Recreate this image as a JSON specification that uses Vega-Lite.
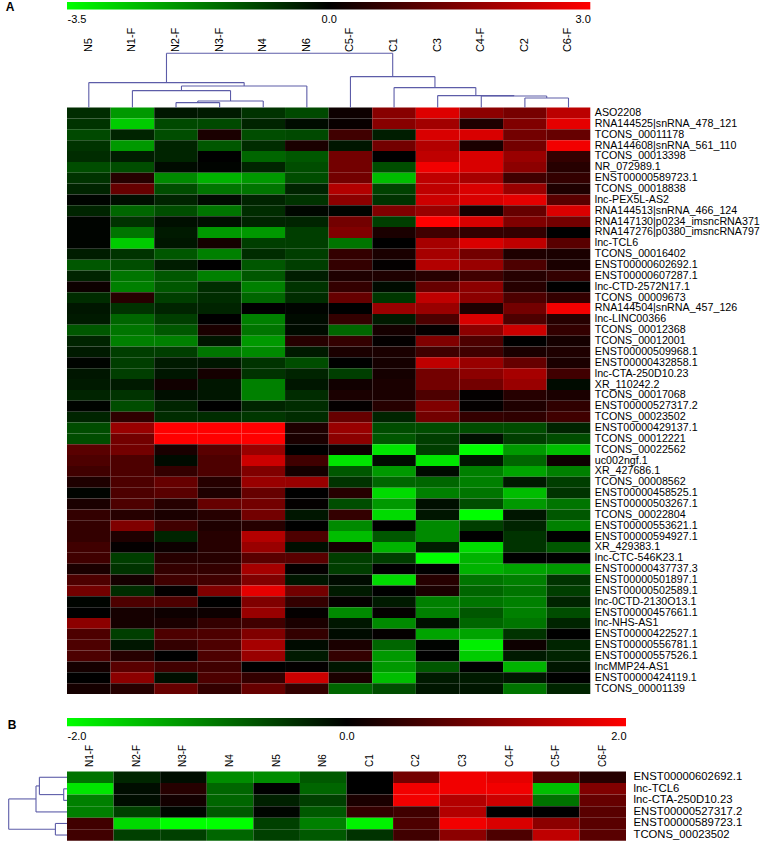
{
"$schema": "https://vega.github.io/schema/vega-lite/v6.json",
"background": "white",
"padding": {"left": 5, "top": 0, "right": 0, "bottom": 0},
"config": {"view": {"stroke": null}, "font": "Liberation Sans", "axis": {"ticks": false, "domain": false, "grid": false, "labelColor": "black", "labelFont": "Liberation Sans"}},
"spacing": 24,
"resolve": {"scale": {"x": "independent", "y": "independent", "color": "independent"}},
"datasets": {
"a": [
{"g":"ASO2208","c":"N5","v":-0.6},{"g":"ASO2208","c":"N1-F","v":-2.1},{"g":"ASO2208","c":"N2-F","v":-0.3},{"g":"ASO2208","c":"N3-F","v":-0.35},{"g":"ASO2208","c":"N4","v":-0.7},{"g":"ASO2208","c":"N6","v":-1.0},{"g":"ASO2208","c":"C5-F","v":0.15},{"g":"ASO2208","c":"C1","v":1.6},{"g":"ASO2208","c":"C3","v":2.6},{"g":"ASO2208","c":"C4-F","v":1.65},{"g":"ASO2208","c":"C2","v":1.4},{"g":"ASO2208","c":"C6-F","v":2.2},
{"g":"RNA144525|snRNA_478_121","c":"N5","v":-0.7},{"g":"RNA144525|snRNA_478_121","c":"N1-F","v":-2.8},{"g":"RNA144525|snRNA_478_121","c":"N2-F","v":-1.0},{"g":"RNA144525|snRNA_478_121","c":"N3-F","v":-1.0},{"g":"RNA144525|snRNA_478_121","c":"N4","v":-0.5},{"g":"RNA144525|snRNA_478_121","c":"N6","v":-0.15},{"g":"RNA144525|snRNA_478_121","c":"C5-F","v":0.1},{"g":"RNA144525|snRNA_478_121","c":"C1","v":1.6},{"g":"RNA144525|snRNA_478_121","c":"C3","v":1.9},{"g":"RNA144525|snRNA_478_121","c":"C4-F","v":0.35},{"g":"RNA144525|snRNA_478_121","c":"C2","v":1.5},{"g":"RNA144525|snRNA_478_121","c":"C6-F","v":2.7},
{"g":"TCONS_00011178","c":"N5","v":-1.0},{"g":"TCONS_00011178","c":"N1-F","v":-0.5},{"g":"TCONS_00011178","c":"N2-F","v":-1.05},{"g":"TCONS_00011178","c":"N3-F","v":0.3},{"g":"TCONS_00011178","c":"N4","v":-1.05},{"g":"TCONS_00011178","c":"N6","v":-1.0},{"g":"TCONS_00011178","c":"C5-F","v":0.75},{"g":"TCONS_00011178","c":"C1","v":-0.4},{"g":"TCONS_00011178","c":"C3","v":2.55},{"g":"TCONS_00011178","c":"C4-F","v":2.55},{"g":"TCONS_00011178","c":"C2","v":1.35},{"g":"TCONS_00011178","c":"C6-F","v":1.2},
{"g":"RNA144608|snRNA_561_110","c":"N5","v":-0.7},{"g":"RNA144608|snRNA_561_110","c":"N1-F","v":-2.1},{"g":"RNA144608|snRNA_561_110","c":"N2-F","v":-0.5},{"g":"RNA144608|snRNA_561_110","c":"N3-F","v":-1.2},{"g":"RNA144608|snRNA_561_110","c":"N4","v":-0.6},{"g":"RNA144608|snRNA_561_110","c":"N6","v":0.3},{"g":"RNA144608|snRNA_561_110","c":"C5-F","v":-0.3},{"g":"RNA144608|snRNA_561_110","c":"C1","v":1.35},{"g":"RNA144608|snRNA_561_110","c":"C3","v":2.1},{"g":"RNA144608|snRNA_561_110","c":"C4-F","v":0.3},{"g":"RNA144608|snRNA_561_110","c":"C2","v":1.35},{"g":"RNA144608|snRNA_561_110","c":"C6-F","v":2.85},
{"g":"TCONS_00013398","c":"N5","v":-0.6},{"g":"TCONS_00013398","c":"N1-F","v":-0.4},{"g":"TCONS_00013398","c":"N2-F","v":-0.5},{"g":"TCONS_00013398","c":"N3-F","v":0.0},{"g":"TCONS_00013398","c":"N4","v":-1.4},{"g":"TCONS_00013398","c":"N6","v":-1.2},{"g":"TCONS_00013398","c":"C5-F","v":1.35},{"g":"TCONS_00013398","c":"C1","v":0.0},{"g":"TCONS_00013398","c":"C3","v":2.25},{"g":"TCONS_00013398","c":"C4-F","v":2.55},{"g":"TCONS_00013398","c":"C2","v":1.8},{"g":"TCONS_00013398","c":"C6-F","v":0.6},
{"g":"NR_072989.1","c":"N5","v":-1.05},{"g":"NR_072989.1","c":"N1-F","v":-1.05},{"g":"NR_072989.1","c":"N2-F","v":-0.15},{"g":"NR_072989.1","c":"N3-F","v":-0.05},{"g":"NR_072989.1","c":"N4","v":-0.5},{"g":"NR_072989.1","c":"N6","v":-1.05},{"g":"NR_072989.1","c":"C5-F","v":1.35},{"g":"NR_072989.1","c":"C1","v":-1.05},{"g":"NR_072989.1","c":"C3","v":2.85},{"g":"NR_072989.1","c":"C4-F","v":2.55},{"g":"NR_072989.1","c":"C2","v":1.65},{"g":"NR_072989.1","c":"C6-F","v":0.45},
{"g":"ENST00000589723.1","c":"N5","v":-0.7},{"g":"ENST00000589723.1","c":"N1-F","v":0.45},{"g":"ENST00000589723.1","c":"N2-F","v":-1.9},{"g":"ENST00000589723.1","c":"N3-F","v":-2.45},{"g":"ENST00000589723.1","c":"N4","v":-2.1},{"g":"ENST00000589723.1","c":"N6","v":-1.05},{"g":"ENST00000589723.1","c":"C5-F","v":1.35},{"g":"ENST00000589723.1","c":"C1","v":-2.6},{"g":"ENST00000589723.1","c":"C3","v":2.25},{"g":"ENST00000589723.1","c":"C4-F","v":1.95},{"g":"ENST00000589723.1","c":"C2","v":0.75},{"g":"ENST00000589723.1","c":"C6-F","v":0.6},
{"g":"TCONS_00018838","c":"N5","v":-0.5},{"g":"TCONS_00018838","c":"N1-F","v":1.2},{"g":"TCONS_00018838","c":"N2-F","v":-1.05},{"g":"TCONS_00018838","c":"N3-F","v":-1.6},{"g":"TCONS_00018838","c":"N4","v":-1.6},{"g":"TCONS_00018838","c":"N6","v":-0.5},{"g":"TCONS_00018838","c":"C5-F","v":2.1},{"g":"TCONS_00018838","c":"C1","v":-0.9},{"g":"TCONS_00018838","c":"C3","v":2.25},{"g":"TCONS_00018838","c":"C4-F","v":2.55},{"g":"TCONS_00018838","c":"C2","v":1.8},{"g":"TCONS_00018838","c":"C6-F","v":0.35},
{"g":"lnc-PEX5L-AS2","c":"N5","v":-0.05},{"g":"lnc-PEX5L-AS2","c":"N1-F","v":-0.2},{"g":"lnc-PEX5L-AS2","c":"N2-F","v":-0.5},{"g":"lnc-PEX5L-AS2","c":"N3-F","v":-0.15},{"g":"lnc-PEX5L-AS2","c":"N4","v":-0.5},{"g":"lnc-PEX5L-AS2","c":"N6","v":-0.7},{"g":"lnc-PEX5L-AS2","c":"C5-F","v":1.65},{"g":"lnc-PEX5L-AS2","c":"C1","v":-0.7},{"g":"lnc-PEX5L-AS2","c":"C3","v":2.4},{"g":"lnc-PEX5L-AS2","c":"C4-F","v":2.55},{"g":"lnc-PEX5L-AS2","c":"C2","v":2.7},{"g":"lnc-PEX5L-AS2","c":"C6-F","v":1.05},
{"g":"RNA144513|snRNA_466_124","c":"N5","v":-0.5},{"g":"RNA144513|snRNA_466_124","c":"N1-F","v":-1.4},{"g":"RNA144513|snRNA_466_124","c":"N2-F","v":-1.05},{"g":"RNA144513|snRNA_466_124","c":"N3-F","v":-1.6},{"g":"RNA144513|snRNA_466_124","c":"N4","v":-0.6},{"g":"RNA144513|snRNA_466_124","c":"N6","v":-0.1},{"g":"RNA144513|snRNA_466_124","c":"C5-F","v":-0.05},{"g":"RNA144513|snRNA_466_124","c":"C1","v":1.5},{"g":"RNA144513|snRNA_466_124","c":"C3","v":1.8},{"g":"RNA144513|snRNA_466_124","c":"C4-F","v":0.25},{"g":"RNA144513|snRNA_466_124","c":"C2","v":1.2},{"g":"RNA144513|snRNA_466_124","c":"C6-F","v":2.55},
{"g":"RNA147130|p0234_imsncRNA371","c":"N5","v":-0.05},{"g":"RNA147130|p0234_imsncRNA371","c":"N1-F","v":-0.7},{"g":"RNA147130|p0234_imsncRNA371","c":"N2-F","v":-0.2},{"g":"RNA147130|p0234_imsncRNA371","c":"N3-F","v":-0.2},{"g":"RNA147130|p0234_imsncRNA371","c":"N4","v":-0.5},{"g":"RNA147130|p0234_imsncRNA371","c":"N6","v":-0.5},{"g":"RNA147130|p0234_imsncRNA371","c":"C5-F","v":1.35},{"g":"RNA147130|p0234_imsncRNA371","c":"C1","v":-0.85},{"g":"RNA147130|p0234_imsncRNA371","c":"C3","v":3.0},{"g":"RNA147130|p0234_imsncRNA371","c":"C4-F","v":2.55},{"g":"RNA147130|p0234_imsncRNA371","c":"C2","v":1.5},{"g":"RNA147130|p0234_imsncRNA371","c":"C6-F","v":1.35},
{"g":"RNA147276|p0380_imsncRNA797","c":"N5","v":-0.05},{"g":"RNA147276|p0380_imsncRNA797","c":"N1-F","v":-1.6},{"g":"RNA147276|p0380_imsncRNA797","c":"N2-F","v":-0.35},{"g":"RNA147276|p0380_imsncRNA797","c":"N3-F","v":-2.1},{"g":"RNA147276|p0380_imsncRNA797","c":"N4","v":-2.1},{"g":"RNA147276|p0380_imsncRNA797","c":"N6","v":-0.85},{"g":"RNA147276|p0380_imsncRNA797","c":"C5-F","v":1.5},{"g":"RNA147276|p0380_imsncRNA797","c":"C1","v":0.3},{"g":"RNA147276|p0380_imsncRNA797","c":"C3","v":0.75},{"g":"RNA147276|p0380_imsncRNA797","c":"C4-F","v":0.6},{"g":"RNA147276|p0380_imsncRNA797","c":"C2","v":0.6},{"g":"RNA147276|p0380_imsncRNA797","c":"C6-F","v":0.0},
{"g":"lnc-TCL6","c":"N5","v":-0.05},{"g":"lnc-TCL6","c":"N1-F","v":-2.8},{"g":"lnc-TCL6","c":"N2-F","v":-0.3},{"g":"lnc-TCL6","c":"N3-F","v":0.25},{"g":"lnc-TCL6","c":"N4","v":-0.85},{"g":"lnc-TCL6","c":"N6","v":-0.85},{"g":"lnc-TCL6","c":"C5-F","v":-1.6},{"g":"lnc-TCL6","c":"C1","v":0.0},{"g":"lnc-TCL6","c":"C3","v":1.95},{"g":"lnc-TCL6","c":"C4-F","v":2.55},{"g":"lnc-TCL6","c":"C2","v":2.25},{"g":"lnc-TCL6","c":"C6-F","v":1.05},
{"g":"TCONS_00016402","c":"N5","v":-0.4},{"g":"TCONS_00016402","c":"N1-F","v":-0.7},{"g":"TCONS_00016402","c":"N2-F","v":-1.2},{"g":"TCONS_00016402","c":"N3-F","v":-1.75},{"g":"TCONS_00016402","c":"N4","v":-0.6},{"g":"TCONS_00016402","c":"N6","v":-0.85},{"g":"TCONS_00016402","c":"C5-F","v":0.6},{"g":"TCONS_00016402","c":"C1","v":0.3},{"g":"TCONS_00016402","c":"C3","v":1.95},{"g":"TCONS_00016402","c":"C4-F","v":1.35},{"g":"TCONS_00016402","c":"C2","v":0.35},{"g":"TCONS_00016402","c":"C6-F","v":0.3},
{"g":"ENST00000602692.1","c":"N5","v":-1.2},{"g":"ENST00000602692.1","c":"N1-F","v":-1.05},{"g":"ENST00000602692.1","c":"N2-F","v":-0.4},{"g":"ENST00000602692.1","c":"N3-F","v":0.0},{"g":"ENST00000602692.1","c":"N4","v":-1.2},{"g":"ENST00000602692.1","c":"N6","v":-0.85},{"g":"ENST00000602692.1","c":"C5-F","v":0.6},{"g":"ENST00000602692.1","c":"C1","v":0.05},{"g":"ENST00000602692.1","c":"C3","v":2.1},{"g":"ENST00000602692.1","c":"C4-F","v":1.8},{"g":"ENST00000602692.1","c":"C2","v":0.9},{"g":"ENST00000602692.1","c":"C6-F","v":0.3},
{"g":"ENST00000607287.1","c":"N5","v":-0.5},{"g":"ENST00000607287.1","c":"N1-F","v":-1.6},{"g":"ENST00000607287.1","c":"N2-F","v":-1.2},{"g":"ENST00000607287.1","c":"N3-F","v":-1.75},{"g":"ENST00000607287.1","c":"N4","v":-1.2},{"g":"ENST00000607287.1","c":"N6","v":-0.4},{"g":"ENST00000607287.1","c":"C5-F","v":0.35},{"g":"ENST00000607287.1","c":"C1","v":0.35},{"g":"ENST00000607287.1","c":"C3","v":0.45},{"g":"ENST00000607287.1","c":"C4-F","v":0.75},{"g":"ENST00000607287.1","c":"C2","v":0.45},{"g":"ENST00000607287.1","c":"C6-F","v":0.6},
{"g":"lnc-CTD-2572N17.1","c":"N5","v":0.15},{"g":"lnc-CTD-2572N17.1","c":"N1-F","v":-1.75},{"g":"lnc-CTD-2572N17.1","c":"N2-F","v":-1.2},{"g":"lnc-CTD-2572N17.1","c":"N3-F","v":-0.6},{"g":"lnc-CTD-2572N17.1","c":"N4","v":-1.75},{"g":"lnc-CTD-2572N17.1","c":"N6","v":-0.7},{"g":"lnc-CTD-2572N17.1","c":"C5-F","v":0.6},{"g":"lnc-CTD-2572N17.1","c":"C1","v":-0.15},{"g":"lnc-CTD-2572N17.1","c":"C3","v":1.2},{"g":"lnc-CTD-2572N17.1","c":"C4-F","v":1.65},{"g":"lnc-CTD-2572N17.1","c":"C2","v":0.45},{"g":"lnc-CTD-2572N17.1","c":"C6-F","v":0.0},
{"g":"TCONS_00009673","c":"N5","v":-0.6},{"g":"TCONS_00009673","c":"N1-F","v":0.45},{"g":"TCONS_00009673","c":"N2-F","v":-0.85},{"g":"TCONS_00009673","c":"N3-F","v":-0.6},{"g":"TCONS_00009673","c":"N4","v":-1.4},{"g":"TCONS_00009673","c":"N6","v":-0.6},{"g":"TCONS_00009673","c":"C5-F","v":1.2},{"g":"TCONS_00009673","c":"C1","v":-0.75},{"g":"TCONS_00009673","c":"C3","v":2.25},{"g":"TCONS_00009673","c":"C4-F","v":1.65},{"g":"TCONS_00009673","c":"C2","v":0.9},{"g":"TCONS_00009673","c":"C6-F","v":0.6},
{"g":"RNA144504|snRNA_457_126","c":"N5","v":-0.3},{"g":"RNA144504|snRNA_457_126","c":"N1-F","v":-0.7},{"g":"RNA144504|snRNA_457_126","c":"N2-F","v":-0.5},{"g":"RNA144504|snRNA_457_126","c":"N3-F","v":-0.5},{"g":"RNA144504|snRNA_457_126","c":"N4","v":0.0},{"g":"RNA144504|snRNA_457_126","c":"N6","v":-0.05},{"g":"RNA144504|snRNA_457_126","c":"C5-F","v":0.0},{"g":"RNA144504|snRNA_457_126","c":"C1","v":1.8},{"g":"RNA144504|snRNA_457_126","c":"C3","v":1.8},{"g":"RNA144504|snRNA_457_126","c":"C4-F","v":0.35},{"g":"RNA144504|snRNA_457_126","c":"C2","v":1.35},{"g":"RNA144504|snRNA_457_126","c":"C6-F","v":2.85},
{"g":"lnc-LINC00366","c":"N5","v":-0.35},{"g":"lnc-LINC00366","c":"N1-F","v":-1.4},{"g":"lnc-LINC00366","c":"N2-F","v":-0.85},{"g":"lnc-LINC00366","c":"N3-F","v":0.0},{"g":"lnc-LINC00366","c":"N4","v":-1.75},{"g":"lnc-LINC00366","c":"N6","v":-0.15},{"g":"lnc-LINC00366","c":"C5-F","v":0.6},{"g":"lnc-LINC00366","c":"C1","v":-0.35},{"g":"lnc-LINC00366","c":"C3","v":0.9},{"g":"lnc-LINC00366","c":"C4-F","v":2.55},{"g":"lnc-LINC00366","c":"C2","v":0.9},{"g":"lnc-LINC00366","c":"C6-F","v":0.45},
{"g":"TCONS_00012368","c":"N5","v":-1.2},{"g":"TCONS_00012368","c":"N1-F","v":-1.6},{"g":"TCONS_00012368","c":"N2-F","v":-1.2},{"g":"TCONS_00012368","c":"N3-F","v":0.3},{"g":"TCONS_00012368","c":"N4","v":-1.6},{"g":"TCONS_00012368","c":"N6","v":-0.15},{"g":"TCONS_00012368","c":"C5-F","v":-1.4},{"g":"TCONS_00012368","c":"C1","v":0.25},{"g":"TCONS_00012368","c":"C3","v":0.05},{"g":"TCONS_00012368","c":"C4-F","v":1.65},{"g":"TCONS_00012368","c":"C2","v":2.4},{"g":"TCONS_00012368","c":"C6-F","v":0.6},
{"g":"TCONS_00012001","c":"N5","v":-0.5},{"g":"TCONS_00012001","c":"N1-F","v":-1.75},{"g":"TCONS_00012001","c":"N2-F","v":-1.75},{"g":"TCONS_00012001","c":"N3-F","v":-0.3},{"g":"TCONS_00012001","c":"N4","v":-2.1},{"g":"TCONS_00012001","c":"N6","v":0.45},{"g":"TCONS_00012001","c":"C5-F","v":0.6},{"g":"TCONS_00012001","c":"C1","v":0.05},{"g":"TCONS_00012001","c":"C3","v":1.5},{"g":"TCONS_00012001","c":"C4-F","v":0.9},{"g":"TCONS_00012001","c":"C2","v":0.0},{"g":"TCONS_00012001","c":"C6-F","v":0.25},
{"g":"ENST00000509968.1","c":"N5","v":-0.35},{"g":"ENST00000509968.1","c":"N1-F","v":-0.85},{"g":"ENST00000509968.1","c":"N2-F","v":-0.85},{"g":"ENST00000509968.1","c":"N3-F","v":-1.6},{"g":"ENST00000509968.1","c":"N4","v":-1.9},{"g":"ENST00000509968.1","c":"N6","v":-0.35},{"g":"ENST00000509968.1","c":"C5-F","v":0.3},{"g":"ENST00000509968.1","c":"C1","v":0.3},{"g":"ENST00000509968.1","c":"C3","v":0.75},{"g":"ENST00000509968.1","c":"C4-F","v":0.75},{"g":"ENST00000509968.1","c":"C2","v":0.3},{"g":"ENST00000509968.1","c":"C6-F","v":0.35},
{"g":"ENST00000432858.1","c":"N5","v":-0.05},{"g":"ENST00000432858.1","c":"N1-F","v":-0.85},{"g":"ENST00000432858.1","c":"N2-F","v":-0.35},{"g":"ENST00000432858.1","c":"N3-F","v":-0.3},{"g":"ENST00000432858.1","c":"N4","v":-0.7},{"g":"ENST00000432858.1","c":"N6","v":-1.05},{"g":"ENST00000432858.1","c":"C5-F","v":0.0},{"g":"ENST00000432858.1","c":"C1","v":0.25},{"g":"ENST00000432858.1","c":"C3","v":2.25},{"g":"ENST00000432858.1","c":"C4-F","v":1.8},{"g":"ENST00000432858.1","c":"C2","v":1.2},{"g":"ENST00000432858.1","c":"C6-F","v":0.3},
{"g":"lnc-CTA-250D10.23","c":"N5","v":-0.3},{"g":"lnc-CTA-250D10.23","c":"N1-F","v":-0.85},{"g":"lnc-CTA-250D10.23","c":"N2-F","v":-0.3},{"g":"lnc-CTA-250D10.23","c":"N3-F","v":0.25},{"g":"lnc-CTA-250D10.23","c":"N4","v":-0.7},{"g":"lnc-CTA-250D10.23","c":"N6","v":-0.5},{"g":"lnc-CTA-250D10.23","c":"C5-F","v":-0.85},{"g":"lnc-CTA-250D10.23","c":"C1","v":0.25},{"g":"lnc-CTA-250D10.23","c":"C3","v":1.35},{"g":"lnc-CTA-250D10.23","c":"C4-F","v":1.65},{"g":"lnc-CTA-250D10.23","c":"C2","v":1.95},{"g":"lnc-CTA-250D10.23","c":"C6-F","v":0.75},
{"g":"XR_110242.2","c":"N5","v":-0.35},{"g":"XR_110242.2","c":"N1-F","v":-0.35},{"g":"XR_110242.2","c":"N2-F","v":0.2},{"g":"XR_110242.2","c":"N3-F","v":-0.3},{"g":"XR_110242.2","c":"N4","v":-1.75},{"g":"XR_110242.2","c":"N6","v":-0.3},{"g":"XR_110242.2","c":"C5-F","v":0.2},{"g":"XR_110242.2","c":"C1","v":0.3},{"g":"XR_110242.2","c":"C3","v":1.35},{"g":"XR_110242.2","c":"C4-F","v":1.35},{"g":"XR_110242.2","c":"C2","v":1.8},{"g":"XR_110242.2","c":"C6-F","v":-0.15},
{"g":"TCONS_00017068","c":"N5","v":-0.5},{"g":"TCONS_00017068","c":"N1-F","v":-0.7},{"g":"TCONS_00017068","c":"N2-F","v":-0.2},{"g":"TCONS_00017068","c":"N3-F","v":-0.3},{"g":"TCONS_00017068","c":"N4","v":-1.75},{"g":"TCONS_00017068","c":"N6","v":-0.6},{"g":"TCONS_00017068","c":"C5-F","v":0.3},{"g":"TCONS_00017068","c":"C1","v":0.3},{"g":"TCONS_00017068","c":"C3","v":0.9},{"g":"TCONS_00017068","c":"C4-F","v":0.05},{"g":"TCONS_00017068","c":"C2","v":0.45},{"g":"TCONS_00017068","c":"C6-F","v":0.3},
{"g":"ENST00000527317.2","c":"N5","v":-0.05},{"g":"ENST00000527317.2","c":"N1-F","v":-1.05},{"g":"ENST00000527317.2","c":"N2-F","v":-0.5},{"g":"ENST00000527317.2","c":"N3-F","v":0.0},{"g":"ENST00000527317.2","c":"N4","v":-0.5},{"g":"ENST00000527317.2","c":"N6","v":-0.6},{"g":"ENST00000527317.2","c":"C5-F","v":0.05},{"g":"ENST00000527317.2","c":"C1","v":0.45},{"g":"ENST00000527317.2","c":"C3","v":1.5},{"g":"ENST00000527317.2","c":"C4-F","v":0.05},{"g":"ENST00000527317.2","c":"C2","v":0.35},{"g":"ENST00000527317.2","c":"C6-F","v":0.55},
{"g":"TCONS_00023502","c":"N5","v":-0.5},{"g":"TCONS_00023502","c":"N1-F","v":0.55},{"g":"TCONS_00023502","c":"N2-F","v":-0.6},{"g":"TCONS_00023502","c":"N3-F","v":-0.6},{"g":"TCONS_00023502","c":"N4","v":-0.75},{"g":"TCONS_00023502","c":"N6","v":-0.6},{"g":"TCONS_00023502","c":"C5-F","v":1.2},{"g":"TCONS_00023502","c":"C1","v":-0.5},{"g":"TCONS_00023502","c":"C3","v":1.35},{"g":"TCONS_00023502","c":"C4-F","v":0.6},{"g":"TCONS_00023502","c":"C2","v":0.55},{"g":"TCONS_00023502","c":"C6-F","v":0.75},
{"g":"ENST00000429137.1","c":"N5","v":-1.05},{"g":"ENST00000429137.1","c":"N1-F","v":1.8},{"g":"ENST00000429137.1","c":"N2-F","v":3.0},{"g":"ENST00000429137.1","c":"N3-F","v":3.0},{"g":"ENST00000429137.1","c":"N4","v":3.0},{"g":"ENST00000429137.1","c":"N6","v":0.35},{"g":"ENST00000429137.1","c":"C5-F","v":1.8},{"g":"ENST00000429137.1","c":"C1","v":-1.05},{"g":"ENST00000429137.1","c":"C3","v":-1.05},{"g":"ENST00000429137.1","c":"C4-F","v":-1.05},{"g":"ENST00000429137.1","c":"C2","v":-1.05},{"g":"ENST00000429137.1","c":"C6-F","v":-0.5},
{"g":"TCONS_00012221","c":"N5","v":-1.05},{"g":"TCONS_00012221","c":"N1-F","v":1.35},{"g":"TCONS_00012221","c":"N2-F","v":3.0},{"g":"TCONS_00012221","c":"N3-F","v":3.0},{"g":"TCONS_00012221","c":"N4","v":3.0},{"g":"TCONS_00012221","c":"N6","v":0.3},{"g":"TCONS_00012221","c":"C5-F","v":1.65},{"g":"TCONS_00012221","c":"C1","v":-1.2},{"g":"TCONS_00012221","c":"C3","v":-0.85},{"g":"TCONS_00012221","c":"C4-F","v":-0.2},{"g":"TCONS_00012221","c":"C2","v":-0.85},{"g":"TCONS_00012221","c":"C6-F","v":-1.05},
{"g":"TCONS_00022562","c":"N5","v":1.05},{"g":"TCONS_00022562","c":"N1-F","v":1.35},{"g":"TCONS_00022562","c":"N2-F","v":0.3},{"g":"TCONS_00022562","c":"N3-F","v":1.05},{"g":"TCONS_00022562","c":"N4","v":1.8},{"g":"TCONS_00022562","c":"N6","v":0.0},{"g":"TCONS_00022562","c":"C5-F","v":0.15},{"g":"TCONS_00022562","c":"C1","v":-3.15},{"g":"TCONS_00022562","c":"C3","v":-0.85},{"g":"TCONS_00022562","c":"C4-F","v":-3.5},{"g":"TCONS_00022562","c":"C2","v":-2.1},{"g":"TCONS_00022562","c":"C6-F","v":-2.6},
{"g":"uc002ngf.1","c":"N5","v":0.9},{"g":"uc002ngf.1","c":"N1-F","v":0.9},{"g":"uc002ngf.1","c":"N2-F","v":-0.15},{"g":"uc002ngf.1","c":"N3-F","v":0.9},{"g":"uc002ngf.1","c":"N4","v":2.4},{"g":"uc002ngf.1","c":"N6","v":0.75},{"g":"uc002ngf.1","c":"C5-F","v":-3.15},{"g":"uc002ngf.1","c":"C1","v":-0.15},{"g":"uc002ngf.1","c":"C3","v":-3.15},{"g":"uc002ngf.1","c":"C4-F","v":-0.3},{"g":"uc002ngf.1","c":"C2","v":-1.4},{"g":"uc002ngf.1","c":"C6-F","v":0.15},
{"g":"XR_427686.1","c":"N5","v":0.75},{"g":"XR_427686.1","c":"N1-F","v":0.9},{"g":"XR_427686.1","c":"N2-F","v":0.6},{"g":"XR_427686.1","c":"N3-F","v":0.9},{"g":"XR_427686.1","c":"N4","v":1.5},{"g":"XR_427686.1","c":"N6","v":0.25},{"g":"XR_427686.1","c":"C5-F","v":-1.2},{"g":"XR_427686.1","c":"C1","v":-2.1},{"g":"XR_427686.1","c":"C3","v":-0.15},{"g":"XR_427686.1","c":"C4-F","v":-1.75},{"g":"XR_427686.1","c":"C2","v":-2.25},{"g":"XR_427686.1","c":"C6-F","v":-1.75},
{"g":"TCONS_00008562","c":"N5","v":0.35},{"g":"TCONS_00008562","c":"N1-F","v":0.9},{"g":"TCONS_00008562","c":"N2-F","v":1.2},{"g":"TCONS_00008562","c":"N3-F","v":0.45},{"g":"TCONS_00008562","c":"N4","v":1.8},{"g":"TCONS_00008562","c":"N6","v":1.8},{"g":"TCONS_00008562","c":"C5-F","v":-0.7},{"g":"TCONS_00008562","c":"C1","v":-1.4},{"g":"TCONS_00008562","c":"C3","v":-1.4},{"g":"TCONS_00008562","c":"C4-F","v":-1.75},{"g":"TCONS_00008562","c":"C2","v":-0.35},{"g":"TCONS_00008562","c":"C6-F","v":-0.85},
{"g":"ENST00000458525.1","c":"N5","v":-0.05},{"g":"ENST00000458525.1","c":"N1-F","v":0.9},{"g":"ENST00000458525.1","c":"N2-F","v":1.05},{"g":"ENST00000458525.1","c":"N3-F","v":0.35},{"g":"ENST00000458525.1","c":"N4","v":1.2},{"g":"ENST00000458525.1","c":"N6","v":0.0},{"g":"ENST00000458525.1","c":"C5-F","v":0.45},{"g":"ENST00000458525.1","c":"C1","v":-3.0},{"g":"ENST00000458525.1","c":"C3","v":-1.75},{"g":"ENST00000458525.1","c":"C4-F","v":-1.6},{"g":"ENST00000458525.1","c":"C2","v":-2.6},{"g":"ENST00000458525.1","c":"C6-F","v":-0.7},
{"g":"ENST00000503267.1","c":"N5","v":0.3},{"g":"ENST00000503267.1","c":"N1-F","v":0.9},{"g":"ENST00000503267.1","c":"N2-F","v":0.45},{"g":"ENST00000503267.1","c":"N3-F","v":1.2},{"g":"ENST00000503267.1","c":"N4","v":1.35},{"g":"ENST00000503267.1","c":"N6","v":0.05},{"g":"ENST00000503267.1","c":"C5-F","v":-1.05},{"g":"ENST00000503267.1","c":"C1","v":-2.1},{"g":"ENST00000503267.1","c":"C3","v":-0.2},{"g":"ENST00000503267.1","c":"C4-F","v":-1.05},{"g":"ENST00000503267.1","c":"C2","v":-2.1},{"g":"ENST00000503267.1","c":"C6-F","v":-1.6},
{"g":"TCONS_00022804","c":"N5","v":0.6},{"g":"TCONS_00022804","c":"N1-F","v":0.45},{"g":"TCONS_00022804","c":"N2-F","v":0.3},{"g":"TCONS_00022804","c":"N3-F","v":0.45},{"g":"TCONS_00022804","c":"N4","v":1.35},{"g":"TCONS_00022804","c":"N6","v":-0.3},{"g":"TCONS_00022804","c":"C5-F","v":0.6},{"g":"TCONS_00022804","c":"C1","v":-3.0},{"g":"TCONS_00022804","c":"C3","v":-0.3},{"g":"TCONS_00022804","c":"C4-F","v":-3.5},{"g":"TCONS_00022804","c":"C2","v":-0.3},{"g":"TCONS_00022804","c":"C6-F","v":-1.2},
{"g":"ENST00000553621.1","c":"N5","v":0.6},{"g":"ENST00000553621.1","c":"N1-F","v":1.5},{"g":"ENST00000553621.1","c":"N2-F","v":0.75},{"g":"ENST00000553621.1","c":"N3-F","v":0.35},{"g":"ENST00000553621.1","c":"N4","v":0.45},{"g":"ENST00000553621.1","c":"N6","v":0.0},{"g":"ENST00000553621.1","c":"C5-F","v":-1.9},{"g":"ENST00000553621.1","c":"C1","v":0.0},{"g":"ENST00000553621.1","c":"C3","v":-1.9},{"g":"ENST00000553621.1","c":"C4-F","v":-0.85},{"g":"ENST00000553621.1","c":"C2","v":-0.5},{"g":"ENST00000553621.1","c":"C6-F","v":-1.75},
{"g":"ENST00000594927.1","c":"N5","v":0.6},{"g":"ENST00000594927.1","c":"N1-F","v":0.35},{"g":"ENST00000594927.1","c":"N2-F","v":-0.5},{"g":"ENST00000594927.1","c":"N3-F","v":0.45},{"g":"ENST00000594927.1","c":"N4","v":2.1},{"g":"ENST00000594927.1","c":"N6","v":0.9},{"g":"ENST00000594927.1","c":"C5-F","v":-2.6},{"g":"ENST00000594927.1","c":"C1","v":-1.2},{"g":"ENST00000594927.1","c":"C3","v":-1.9},{"g":"ENST00000594927.1","c":"C4-F","v":0.0},{"g":"ENST00000594927.1","c":"C2","v":-0.7},{"g":"ENST00000594927.1","c":"C6-F","v":0.0},
{"g":"XR_429383.1","c":"N5","v":0.75},{"g":"XR_429383.1","c":"N1-F","v":0.05},{"g":"XR_429383.1","c":"N2-F","v":0.15},{"g":"XR_429383.1","c":"N3-F","v":0.45},{"g":"XR_429383.1","c":"N4","v":1.8},{"g":"XR_429383.1","c":"N6","v":-0.2},{"g":"XR_429383.1","c":"C5-F","v":0.25},{"g":"XR_429383.1","c":"C1","v":-2.45},{"g":"XR_429383.1","c":"C3","v":-0.4},{"g":"XR_429383.1","c":"C4-F","v":-3.0},{"g":"XR_429383.1","c":"C2","v":-0.7},{"g":"XR_429383.1","c":"C6-F","v":-1.2},
{"g":"lnc-CTC-546K23.1","c":"N5","v":0.75},{"g":"lnc-CTC-546K23.1","c":"N1-F","v":-0.85},{"g":"lnc-CTC-546K23.1","c":"N2-F","v":0.45},{"g":"lnc-CTC-546K23.1","c":"N3-F","v":0.45},{"g":"lnc-CTC-546K23.1","c":"N4","v":1.05},{"g":"lnc-CTC-546K23.1","c":"N6","v":1.05},{"g":"lnc-CTC-546K23.1","c":"C5-F","v":-0.85},{"g":"lnc-CTC-546K23.1","c":"C1","v":-0.85},{"g":"lnc-CTC-546K23.1","c":"C3","v":-3.5},{"g":"lnc-CTC-546K23.1","c":"C4-F","v":-2.45},{"g":"lnc-CTC-546K23.1","c":"C2","v":0.0},{"g":"lnc-CTC-546K23.1","c":"C6-F","v":0.0},
{"g":"ENST00000437737.3","c":"N5","v":0.3},{"g":"ENST00000437737.3","c":"N1-F","v":-0.7},{"g":"ENST00000437737.3","c":"N2-F","v":0.6},{"g":"ENST00000437737.3","c":"N3-F","v":0.6},{"g":"ENST00000437737.3","c":"N4","v":1.95},{"g":"ENST00000437737.3","c":"N6","v":0.05},{"g":"ENST00000437737.3","c":"C5-F","v":-0.85},{"g":"ENST00000437737.3","c":"C1","v":0.0},{"g":"ENST00000437737.3","c":"C3","v":0.0},{"g":"ENST00000437737.3","c":"C4-F","v":-2.45},{"g":"ENST00000437737.3","c":"C2","v":-2.25},{"g":"ENST00000437737.3","c":"C6-F","v":-2.1},
{"g":"ENST00000501897.1","c":"N5","v":0.9},{"g":"ENST00000501897.1","c":"N1-F","v":0.25},{"g":"ENST00000501897.1","c":"N2-F","v":0.75},{"g":"ENST00000501897.1","c":"N3-F","v":0.75},{"g":"ENST00000501897.1","c":"N4","v":1.5},{"g":"ENST00000501897.1","c":"N6","v":-0.3},{"g":"ENST00000501897.1","c":"C5-F","v":-0.15},{"g":"ENST00000501897.1","c":"C1","v":-3.0},{"g":"ENST00000501897.1","c":"C3","v":0.45},{"g":"ENST00000501897.1","c":"C4-F","v":-1.6},{"g":"ENST00000501897.1","c":"C2","v":-1.75},{"g":"ENST00000501897.1","c":"C6-F","v":-0.7},
{"g":"ENST00000502589.1","c":"N5","v":1.35},{"g":"ENST00000502589.1","c":"N1-F","v":-0.6},{"g":"ENST00000502589.1","c":"N2-F","v":0.05},{"g":"ENST00000502589.1","c":"N3-F","v":1.5},{"g":"ENST00000502589.1","c":"N4","v":2.7},{"g":"ENST00000502589.1","c":"N6","v":1.35},{"g":"ENST00000502589.1","c":"C5-F","v":-0.35},{"g":"ENST00000502589.1","c":"C1","v":0.0},{"g":"ENST00000502589.1","c":"C3","v":0.3},{"g":"ENST00000502589.1","c":"C4-F","v":-1.4},{"g":"ENST00000502589.1","c":"C2","v":-1.6},{"g":"ENST00000502589.1","c":"C6-F","v":-0.85},
{"g":"lnc-0CTD-2130O13.1","c":"N5","v":-0.05},{"g":"lnc-0CTD-2130O13.1","c":"N1-F","v":0.9},{"g":"lnc-0CTD-2130O13.1","c":"N2-F","v":0.9},{"g":"lnc-0CTD-2130O13.1","c":"N3-F","v":0.0},{"g":"lnc-0CTD-2130O13.1","c":"N4","v":1.5},{"g":"lnc-0CTD-2130O13.1","c":"N6","v":0.6},{"g":"lnc-0CTD-2130O13.1","c":"C5-F","v":0.05},{"g":"lnc-0CTD-2130O13.1","c":"C1","v":-0.35},{"g":"lnc-0CTD-2130O13.1","c":"C3","v":-1.75},{"g":"lnc-0CTD-2130O13.1","c":"C4-F","v":-1.6},{"g":"lnc-0CTD-2130O13.1","c":"C2","v":-1.75},{"g":"lnc-0CTD-2130O13.1","c":"C6-F","v":-0.5},
{"g":"ENST00000457661.1","c":"N5","v":0.0},{"g":"ENST00000457661.1","c":"N1-F","v":0.25},{"g":"ENST00000457661.1","c":"N2-F","v":0.15},{"g":"ENST00000457661.1","c":"N3-F","v":0.15},{"g":"ENST00000457661.1","c":"N4","v":1.8},{"g":"ENST00000457661.1","c":"N6","v":0.05},{"g":"ENST00000457661.1","c":"C5-F","v":-1.9},{"g":"ENST00000457661.1","c":"C1","v":0.05},{"g":"ENST00000457661.1","c":"C3","v":-1.75},{"g":"ENST00000457661.1","c":"C4-F","v":-1.2},{"g":"ENST00000457661.1","c":"C2","v":-1.75},{"g":"ENST00000457661.1","c":"C6-F","v":-1.05},
{"g":"lnc-NHS-AS1","c":"N5","v":1.65},{"g":"lnc-NHS-AS1","c":"N1-F","v":0.25},{"g":"lnc-NHS-AS1","c":"N2-F","v":0.3},{"g":"lnc-NHS-AS1","c":"N3-F","v":0.6},{"g":"lnc-NHS-AS1","c":"N4","v":0.75},{"g":"lnc-NHS-AS1","c":"N6","v":0.3},{"g":"lnc-NHS-AS1","c":"C5-F","v":-0.3},{"g":"lnc-NHS-AS1","c":"C1","v":-1.9},{"g":"lnc-NHS-AS1","c":"C3","v":-0.2},{"g":"lnc-NHS-AS1","c":"C4-F","v":-1.4},{"g":"lnc-NHS-AS1","c":"C2","v":-1.6},{"g":"lnc-NHS-AS1","c":"C6-F","v":-0.5},
{"g":"ENST00000422527.1","c":"N5","v":0.9},{"g":"ENST00000422527.1","c":"N1-F","v":-0.85},{"g":"ENST00000422527.1","c":"N2-F","v":0.9},{"g":"ENST00000422527.1","c":"N3-F","v":0.9},{"g":"ENST00000422527.1","c":"N4","v":1.5},{"g":"ENST00000422527.1","c":"N6","v":0.6},{"g":"ENST00000422527.1","c":"C5-F","v":-0.15},{"g":"ENST00000422527.1","c":"C1","v":0.05},{"g":"ENST00000422527.1","c":"C3","v":-2.25},{"g":"ENST00000422527.1","c":"C4-F","v":-2.25},{"g":"ENST00000422527.1","c":"C2","v":-0.7},{"g":"ENST00000422527.1","c":"C6-F","v":0.0},
{"g":"ENST00000556781.1","c":"N5","v":0.9},{"g":"ENST00000556781.1","c":"N1-F","v":-0.3},{"g":"ENST00000556781.1","c":"N2-F","v":0.6},{"g":"ENST00000556781.1","c":"N3-F","v":0.9},{"g":"ENST00000556781.1","c":"N4","v":1.95},{"g":"ENST00000556781.1","c":"N6","v":-0.15},{"g":"ENST00000556781.1","c":"C5-F","v":0.3},{"g":"ENST00000556781.1","c":"C1","v":-1.4},{"g":"ENST00000556781.1","c":"C3","v":-0.05},{"g":"ENST00000556781.1","c":"C4-F","v":-3.3},{"g":"ENST00000556781.1","c":"C2","v":0.15},{"g":"ENST00000556781.1","c":"C6-F","v":-0.5},
{"g":"ENST00000557526.1","c":"N5","v":0.9},{"g":"ENST00000557526.1","c":"N1-F","v":0.45},{"g":"ENST00000557526.1","c":"N2-F","v":0.0},{"g":"ENST00000557526.1","c":"N3-F","v":0.9},{"g":"ENST00000557526.1","c":"N4","v":1.8},{"g":"ENST00000557526.1","c":"N6","v":-0.35},{"g":"ENST00000557526.1","c":"C5-F","v":0.6},{"g":"ENST00000557526.1","c":"C1","v":-2.1},{"g":"ENST00000557526.1","c":"C3","v":0.0},{"g":"ENST00000557526.1","c":"C4-F","v":-2.8},{"g":"ENST00000557526.1","c":"C2","v":-0.35},{"g":"ENST00000557526.1","c":"C6-F","v":-0.5},
{"g":"lncMMP24-AS1","c":"N5","v":0.25},{"g":"lncMMP24-AS1","c":"N1-F","v":1.05},{"g":"lncMMP24-AS1","c":"N2-F","v":0.75},{"g":"lncMMP24-AS1","c":"N3-F","v":0.75},{"g":"lncMMP24-AS1","c":"N4","v":0.0},{"g":"lncMMP24-AS1","c":"N6","v":0.05},{"g":"lncMMP24-AS1","c":"C5-F","v":-0.3},{"g":"lncMMP24-AS1","c":"C1","v":-2.1},{"g":"lncMMP24-AS1","c":"C3","v":-1.2},{"g":"lncMMP24-AS1","c":"C4-F","v":0.0},{"g":"lncMMP24-AS1","c":"C2","v":-2.45},{"g":"lncMMP24-AS1","c":"C6-F","v":-0.3},
{"g":"ENST00000424119.1","c":"N5","v":0.0},{"g":"ENST00000424119.1","c":"N1-F","v":1.65},{"g":"ENST00000424119.1","c":"N2-F","v":-0.2},{"g":"ENST00000424119.1","c":"N3-F","v":0.9},{"g":"ENST00000424119.1","c":"N4","v":0.6},{"g":"ENST00000424119.1","c":"N6","v":2.4},{"g":"ENST00000424119.1","c":"C5-F","v":0.3},{"g":"ENST00000424119.1","c":"C1","v":-2.6},{"g":"ENST00000424119.1","c":"C3","v":-0.35},{"g":"ENST00000424119.1","c":"C4-F","v":-0.35},{"g":"ENST00000424119.1","c":"C2","v":-0.3},{"g":"ENST00000424119.1","c":"C6-F","v":0.0},
{"g":"TCONS_00001139","c":"N5","v":0.25},{"g":"TCONS_00001139","c":"N1-F","v":0.45},{"g":"TCONS_00001139","c":"N2-F","v":1.2},{"g":"TCONS_00001139","c":"N3-F","v":0.6},{"g":"TCONS_00001139","c":"N4","v":1.2},{"g":"TCONS_00001139","c":"N6","v":0.6},{"g":"TCONS_00001139","c":"C5-F","v":-1.4},{"g":"TCONS_00001139","c":"C1","v":-1.05},{"g":"TCONS_00001139","c":"C3","v":-0.3},{"g":"TCONS_00001139","c":"C4-F","v":-0.3},{"g":"TCONS_00001139","c":"C2","v":-1.6},{"g":"TCONS_00001139","c":"C6-F","v":-0.5}
],
"b": [
{"g":"ENST00000602692.1","c":"N1-F","v":-0.9},{"g":"ENST00000602692.1","c":"N2-F","v":-0.3},{"g":"ENST00000602692.1","c":"N3-F","v":-0.1},{"g":"ENST00000602692.1","c":"N4","v":-1.1},{"g":"ENST00000602692.1","c":"N5","v":-1.1},{"g":"ENST00000602692.1","c":"N6","v":-0.7},{"g":"ENST00000602692.1","c":"C1","v":0.0},{"g":"ENST00000602692.1","c":"C2","v":0.9},{"g":"ENST00000602692.1","c":"C3","v":1.9},{"g":"ENST00000602692.1","c":"C4-F","v":1.8},{"g":"ENST00000602692.1","c":"C5-F","v":0.6},{"g":"ENST00000602692.1","c":"C6-F","v":0.3},
{"g":"lnc-TCL6","c":"N1-F","v":-1.8},{"g":"lnc-TCL6","c":"N2-F","v":-0.1},{"g":"lnc-TCL6","c":"N3-F","v":0.3},{"g":"lnc-TCL6","c":"N4","v":-0.8},{"g":"lnc-TCL6","c":"N5","v":0.0},{"g":"lnc-TCL6","c":"N6","v":-0.8},{"g":"lnc-TCL6","c":"C1","v":0.0},{"g":"lnc-TCL6","c":"C2","v":1.9},{"g":"lnc-TCL6","c":"C3","v":1.9},{"g":"lnc-TCL6","c":"C4-F","v":1.9},{"g":"lnc-TCL6","c":"C5-F","v":-1.5},{"g":"lnc-TCL6","c":"C6-F","v":1.0},
{"g":"lnc-CTA-250D10.23","c":"N1-F","v":-1.0},{"g":"lnc-CTA-250D10.23","c":"N2-F","v":-0.1},{"g":"lnc-CTA-250D10.23","c":"N3-F","v":0.15},{"g":"lnc-CTA-250D10.23","c":"N4","v":-0.8},{"g":"lnc-CTA-250D10.23","c":"N5","v":-0.25},{"g":"lnc-CTA-250D10.23","c":"N6","v":-0.5},{"g":"lnc-CTA-250D10.23","c":"C1","v":0.2},{"g":"lnc-CTA-250D10.23","c":"C2","v":1.9},{"g":"lnc-CTA-250D10.23","c":"C3","v":1.4},{"g":"lnc-CTA-250D10.23","c":"C4-F","v":1.6},{"g":"lnc-CTA-250D10.23","c":"C5-F","v":-0.9},{"g":"lnc-CTA-250D10.23","c":"C6-F","v":0.8},
{"g":"ENST00000527317.2","c":"N1-F","v":-1.0},{"g":"ENST00000527317.2","c":"N2-F","v":-0.5},{"g":"ENST00000527317.2","c":"N3-F","v":-0.05},{"g":"ENST00000527317.2","c":"N4","v":-0.7},{"g":"ENST00000527317.2","c":"N5","v":-0.05},{"g":"ENST00000527317.2","c":"N6","v":-0.7},{"g":"ENST00000527317.2","c":"C1","v":0.4},{"g":"ENST00000527317.2","c":"C2","v":0.5},{"g":"ENST00000527317.2","c":"C3","v":1.4},{"g":"ENST00000527317.2","c":"C4-F","v":0.0},{"g":"ENST00000527317.2","c":"C5-F","v":0.0},{"g":"ENST00000527317.2","c":"C6-F","v":0.7},
{"g":"ENST00000589723.1","c":"N1-F","v":0.5},{"g":"ENST00000589723.1","c":"N2-F","v":-1.7},{"g":"ENST00000589723.1","c":"N3-F","v":-2.0},{"g":"ENST00000589723.1","c":"N4","v":-2.0},{"g":"ENST00000589723.1","c":"N5","v":-0.5},{"g":"ENST00000589723.1","c":"N6","v":-1.0},{"g":"ENST00000589723.1","c":"C1","v":-1.9},{"g":"ENST00000589723.1","c":"C2","v":0.6},{"g":"ENST00000589723.1","c":"C3","v":1.9},{"g":"ENST00000589723.1","c":"C4-F","v":1.7},{"g":"ENST00000589723.1","c":"C5-F","v":1.1},{"g":"ENST00000589723.1","c":"C6-F","v":0.7},
{"g":"TCONS_00023502","c":"N1-F","v":0.5},{"g":"TCONS_00023502","c":"N2-F","v":-0.5},{"g":"TCONS_00023502","c":"N3-F","v":-0.5},{"g":"TCONS_00023502","c":"N4","v":-0.8},{"g":"TCONS_00023502","c":"N5","v":-0.5},{"g":"TCONS_00023502","c":"N6","v":-0.7},{"g":"TCONS_00023502","c":"C1","v":-0.4},{"g":"TCONS_00023502","c":"C2","v":0.5},{"g":"TCONS_00023502","c":"C3","v":1.1},{"g":"TCONS_00023502","c":"C4-F","v":0.6},{"g":"TCONS_00023502","c":"C5-F","v":1.5},{"g":"TCONS_00023502","c":"C6-F","v":0.7}
],
"dendA": [
{"x":2.5,"y":0,"x2":2.5,"y2":5},{"x":3.5,"y":0,"x2":3.5,"y2":5},{"x":2.5,"y":5,"x2":3.5,"y2":5},
{"x":3.0,"y":5,"x2":3.0,"y2":6.6},{"x":4.5,"y":0,"x2":4.5,"y2":6.6},{"x":3.0,"y":6.6,"x2":4.5,"y2":6.6},
{"x":1.5,"y":0,"x2":1.5,"y2":17},{"x":3.75,"y":6.6,"x2":3.75,"y2":17},{"x":1.5,"y":17,"x2":3.75,"y2":17},
{"x":2.625,"y":17,"x2":2.625,"y2":21.6},{"x":5.5,"y":0,"x2":5.5,"y2":21.6},{"x":2.625,"y":21.6,"x2":5.5,"y2":21.6},
{"x":0.5,"y":0,"x2":0.5,"y2":25},{"x":4.0625,"y":21.6,"x2":4.0625,"y2":25},{"x":0.5,"y":25,"x2":4.0625,"y2":25},
{"x":10.5,"y":0,"x2":10.5,"y2":9.6},{"x":11.5,"y":0,"x2":11.5,"y2":9.6},{"x":10.5,"y":9.6,"x2":11.5,"y2":9.6},
{"x":9.5,"y":0,"x2":9.5,"y2":11.6},{"x":11.0,"y":9.6,"x2":11.0,"y2":11.6},{"x":9.5,"y":11.6,"x2":11.0,"y2":11.6},
{"x":8.5,"y":0,"x2":8.5,"y2":12},{"x":10.25,"y":11.6,"x2":10.25,"y2":12},{"x":8.5,"y":12,"x2":10.25,"y2":12},
{"x":7.5,"y":0,"x2":7.5,"y2":20},{"x":9.375,"y":12,"x2":9.375,"y2":20},{"x":7.5,"y":20,"x2":9.375,"y2":20},
{"x":6.5,"y":0,"x2":6.5,"y2":31},{"x":8.4375,"y":20,"x2":8.4375,"y2":31},{"x":6.5,"y":31,"x2":8.4375,"y2":31},
{"x":2.28125,"y":25,"x2":2.28125,"y2":54.3},{"x":7.46875,"y":31,"x2":7.46875,"y2":54.3},{"x":2.28125,"y":54.3,"x2":7.46875,"y2":54.3}
],
"dendB": [
{"x":0,"y":1.5,"x2":3.3,"y2":1.5},{"x":0,"y":2.5,"x2":3.3,"y2":2.5},{"x":3.3,"y":1.5,"x2":3.3,"y2":2.5},
{"x":0,"y":0.5,"x2":27.6,"y2":0.5},{"x":3.3,"y":2.0,"x2":27.6,"y2":2.0},{"x":27.6,"y":0.5,"x2":27.6,"y2":2.0},
{"x":27.6,"y":1.25,"x2":31,"y2":1.25},{"x":0,"y":3.5,"x2":31,"y2":3.5},{"x":31,"y":1.25,"x2":31,"y2":3.5},
{"x":0,"y":4.5,"x2":11.6,"y2":4.5},{"x":0,"y":5.5,"x2":11.6,"y2":5.5},{"x":11.6,"y":4.5,"x2":11.6,"y2":5.5},
{"x":31,"y":2.375,"x2":58.3,"y2":2.375},{"x":11.6,"y":5.0,"x2":58.3,"y2":5.0},{"x":58.3,"y":2.375,"x2":58.3,"y2":5.0}
]
},
"vconcat": [
{
"spacing": 1.6,
"resolve": {"scale": {"x": "independent", "y": "independent", "color": "independent"}},
"vconcat": [
{
"width": 523.3, "height": 7.6,
"title": {"text": "A", "orient": "left", "angle": 0, "anchor": "middle", "frame": "group", "align": "right", "baseline": "middle", "dy": 1, "offset": 44, "fontSize": 12, "fontWeight": "bold", "font": "Liberation Sans", "color": "black"},
"data": {"values": [{"lo": -3.5, "hi": 3.0}]},
"mark": {"type": "rect", "fill": {"gradient": "linear", "x1": 0, "y1": 0, "x2": 1, "y2": 0, "stops": [{"offset": 0, "color": "#00ff00"}, {"offset": 0.5, "color": "#000000"}, {"offset": 1, "color": "#ff0000"}]}},
"encoding": {
"x": {"field": "lo", "type": "quantitative", "scale": {"domain": [-3.5, 0, 3], "range": [0, 261.65, 523.3], "nice": false, "zero": false}, "axis": {"orient": "bottom", "values": [-3.5, 0, 3], "labelFlush": true, "labelPadding": 4, "tickSize": 0, "labelFontSize": 11, "labelExpr": "datum.value < 0 ? '-' + format(-datum.value, '.1f') : format(datum.value, '.1f')", "title": null}},
"x2": {"field": "hi"}
}
},
{
"width": 523.3, "height": 586.4,
"resolve": {"scale": {"x": "independent", "y": "independent"}},
"layer": [
{
"data": {"name": "a"},
"mark": {"type": "rect"},
"encoding": {
"x": {"field": "c", "type": "nominal", "sort": null, "scale": {"paddingInner": 0, "paddingOuter": 0}, "axis": {"orient": "top", "labelAngle": -90, "labelPadding": 56, "tickSize": 0, "labelFontSize": 11, "title": null}},
"y": {"field": "g", "type": "nominal", "sort": null, "scale": {"paddingInner": 0, "paddingOuter": 0}, "axis": {"orient": "right", "labelPadding": 4, "tickSize": 0, "labelFontSize": 10.7, "labelLimit": 0, "title": null}},
"color": {"field": "v", "type": "quantitative", "scale": {"domain": [-3.5, 0, 3], "range": ["#00ff00", "#000000", "#ff0000"], "interpolate": "rgb"}, "legend": null}
}
},
{
"data": {"name": "dendA"},
"mark": {"type": "rule", "color": "#5c5ca8", "strokeWidth": 1.1},
"encoding": {
"x": {"field": "x", "type": "quantitative", "scale": {"domain": [0, 12], "nice": false, "zero": false}, "axis": null},
"x2": {"field": "x2"},
"y": {"field": "y", "type": "quantitative", "scale": {"domain": [0, 54.3], "range": [0, -54.3], "nice": false, "zero": false}, "axis": null},
"y2": {"field": "y2"}
}
}
]
}
]
},
{
"spacing": 1.5,
"resolve": {"scale": {"x": "independent", "y": "independent", "color": "independent"}},
"vconcat": [
{
"width": 559, "height": 8.3,
"title": {"text": "B", "orient": "left", "angle": 0, "anchor": "middle", "frame": "group", "align": "right", "baseline": "middle", "dy": 3, "offset": 42, "fontSize": 12, "fontWeight": "bold", "font": "Liberation Sans", "color": "black"},
"data": {"values": [{"lo": -2.0, "hi": 2.0}]},
"mark": {"type": "rect", "fill": {"gradient": "linear", "x1": 0, "y1": 0, "x2": 1, "y2": 0, "stops": [{"offset": 0, "color": "#00ff00"}, {"offset": 0.5, "color": "#000000"}, {"offset": 1, "color": "#ff0000"}]}},
"encoding": {
"x": {"field": "lo", "type": "quantitative", "scale": {"domain": [-2, 0, 2], "range": [0, 279.5, 559], "nice": false, "zero": false}, "axis": {"orient": "bottom", "values": [-2, 0, 2], "labelFlush": true, "labelPadding": 4, "tickSize": 0, "labelFontSize": 11, "labelExpr": "datum.value < 0 ? '-' + format(-datum.value, '.1f') : format(datum.value, '.1f')", "title": null}},
"x2": {"field": "hi"}
}
},
{
"width": 559, "height": 69.3,
"resolve": {"scale": {"x": "independent", "y": "independent"}},
"layer": [
{
"data": {"name": "b"},
"mark": {"type": "rect"},
"encoding": {
"x": {"field": "c", "type": "nominal", "sort": null, "scale": {"paddingInner": 0, "paddingOuter": 0}, "axis": {"orient": "top", "labelAngle": -90, "labelPadding": 5, "tickSize": 0, "labelFontSize": 10, "title": null}},
"y": {"field": "g", "type": "nominal", "sort": null, "scale": {"paddingInner": 0, "paddingOuter": 0}, "axis": {"orient": "right", "labelPadding": 7, "tickSize": 0, "labelFontSize": 11.3, "labelLimit": 0, "title": null}},
"color": {"field": "v", "type": "quantitative", "scale": {"domain": [-2, 0, 2], "range": ["#00ff00", "#000000", "#ff0000"], "interpolate": "rgb"}, "legend": null}
}
},
{
"data": {"name": "dendB"},
"mark": {"type": "rule", "color": "#5c5ca8", "strokeWidth": 1.1},
"encoding": {
"x": {"field": "x", "type": "quantitative", "scale": {"domain": [0, 58.3], "range": [0, -58.3], "nice": false, "zero": false}, "axis": null},
"x2": {"field": "x2"},
"y": {"field": "y", "type": "quantitative", "scale": {"domain": [0, 6], "range": [0, 69.3], "nice": false, "zero": false}, "axis": null},
"y2": {"field": "y2"}
}
}
]
}
]
}
]
}
